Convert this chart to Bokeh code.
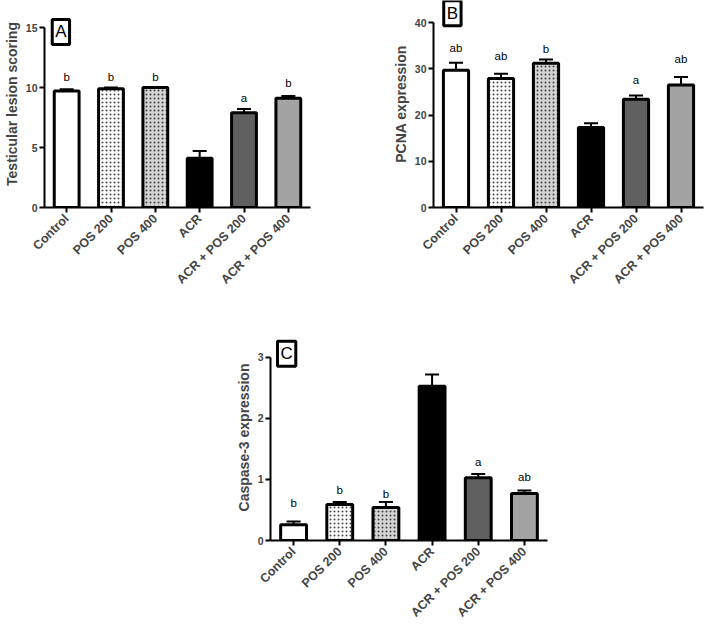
from bokeh.plotting import figure
from bokeh.layouts import column, row
from bokeh.models import (FactorRange, Range1d, FixedTicker, Whisker, TeeHead,
                          ColumnDataSource, Label, Spacer)
from bokeh.core.properties import value
from bokeh.embed import file_html
from bokeh.resources import INLINE
import math

# ---------------- data ----------------
groups = ["Control", "POS 200", "POS 400", "ACR", "ACR + POS 200", "ACR + POS 400"]

lesion_mean = [9.7, 9.9, 10.0, 4.1, 7.9, 9.1]
lesion_sem = [0.15, 0.1, 0.05, 0.6, 0.3, 0.2]
lesion_letters = ["b", "b", "b", "", "a", "b"]
lesion_letter_y = [10.35, 10.35, 10.35, 0, 8.65, 9.85]
lesion_ticks = [0, 5, 10, 15]

pcna_mean = [29.7, 27.9, 31.2, 17.3, 23.4, 26.5]
pcna_sem = [1.6, 1.0, 0.8, 0.9, 0.8, 1.7]
pcna_letters = ["ab", "ab", "b", "", "a", "ab"]
pcna_letter_y = [33.2, 31.5, 33.0, 0, 26.2, 30.8]
pcna_ticks = [0, 10, 20, 30, 40]

casp_mean = [0.26, 0.59, 0.54, 2.53, 1.03, 0.77]
casp_sem = [0.05, 0.04, 0.09, 0.19, 0.06, 0.05]
casp_letters = ["b", "b", "b", "", "a", "ab"]
casp_letter_y = [0.51, 0.73, 0.67, 0, 1.19, 0.95]
casp_ticks = [0, 1, 2, 3]

fills = ["white", "white", "#d4d4d4", "black", "#606060", "#a3a3a3"]
hatches = [" ", "dot", "dot", " ", " ", " "]

FONT = "Liberation Sans"


def panel(mean, sem, letters, letter_y, ticks, ymax, yend, ylabel, tag, tag_xy,
          width, height, bl, bt, bb, br):
    p = figure(x_range=FactorRange(*groups, range_padding=0),
               y_range=Range1d(0, yend), title=None,
               width=width, height=height, output_backend="svg",
               toolbar_location=None)
    p.min_border_left = bl
    p.min_border_top = bt
    p.min_border_bottom = bb
    p.min_border_right = br
    p.outline_line_color = None
    p.xgrid.visible = False
    p.ygrid.visible = False
    p.background_fill_color = "white"

    top = [m + s for m, s in zip(mean, sem)]
    src = ColumnDataSource(dict(g=groups, m=mean, top=top, fill=fills,
                                hatch=hatches, lab=letters, ly=letter_y))
    p.vbar(x="g", top="m", bottom=0, width=0.56, source=src,
           fill_color="fill", line_color="black", line_width=3,
           hatch_pattern="hatch", hatch_color="#333333", hatch_scale=4,
           hatch_weight=1.2, hatch_alpha=0.9)
    w = Whisker(base="g", lower="m", upper="top", source=src,
                line_color="black", line_width=2,
                upper_head=TeeHead(size=14, line_width=2, line_color="black"),
                lower_head=None, level="glyph")
    p.add_layout(w)
    p.text(x="g", y="ly", text="lab", source=src, text_align="center",
           text_baseline="bottom", text_font=value(FONT),
           text_font_size="11.5px", text_color="black")

    lab = Label(x=tag_xy[0], y=tag_xy[1], text=tag, text_align="center",
                text_baseline="middle", text_font=FONT, text_font_size="17px",
                text_color="black", border_line_color="black",
                border_line_width=3, background_fill_color="white",
                padding=3)
    p.add_layout(lab)

    ya = p.yaxis[0]
    ya.ticker = FixedTicker(ticks=ticks)
    ya.bounds = (0, ymax)
    ya.minor_tick_line_color = None
    ya.axis_line_width = 2
    ya.major_tick_line_width = 2
    ya.major_tick_out = 5
    ya.major_tick_in = 0
    ya.major_label_standoff = 2
    ya.major_label_text_font = FONT
    ya.major_label_text_font_style = "bold"
    ya.major_label_text_font_size = "10.5px"
    ya.axis_label = ylabel
    ya.axis_label_text_font = FONT
    ya.axis_label_text_font_style = "bold"
    ya.axis_label_text_font_size = "14px"
    ya.axis_label_standoff = 3

    xa = p.xaxis[0]
    xa.axis_line_width = 2
    xa.major_tick_line_width = 2
    xa.major_tick_out = 5
    xa.major_tick_in = 0
    xa.major_label_orientation = math.pi / 4
    xa.major_label_standoff = 4
    xa.major_label_text_font = FONT
    xa.major_label_text_font_style = "bold"
    xa.major_label_text_font_size = "12.5px"
    return p


pA = panel(lesion_mean, lesion_sem, lesion_letters, lesion_letter_y,
           lesion_ticks, 15, 17.25, "Testicular lesion scoring", "A",
           (0.37, 14.63), width=355, height=305, bl=40, bt=0, bb=98, br=45)
pB = panel(pcna_mean, pcna_sem, pcna_letters, pcna_letter_y,
           pcna_ticks, 40, 44.76, "PCNA expression", "B", (0.42, 42.0),
           width=352, height=305, bl=78, bt=0, bb=98, br=4)
pC = panel(casp_mean, casp_sem, casp_letters, casp_letter_y,
           casp_ticks, 3, 3.377, "Caspase-3 expression", "C", (0.35, 3.06),
           width=347, height=322, bl=50, bt=29, bb=86, br=20)

layout = column(row(pA, pB), row(Spacer(width=220, height=322), pC))

open("out.html", "w").write(file_html(layout, INLINE))
